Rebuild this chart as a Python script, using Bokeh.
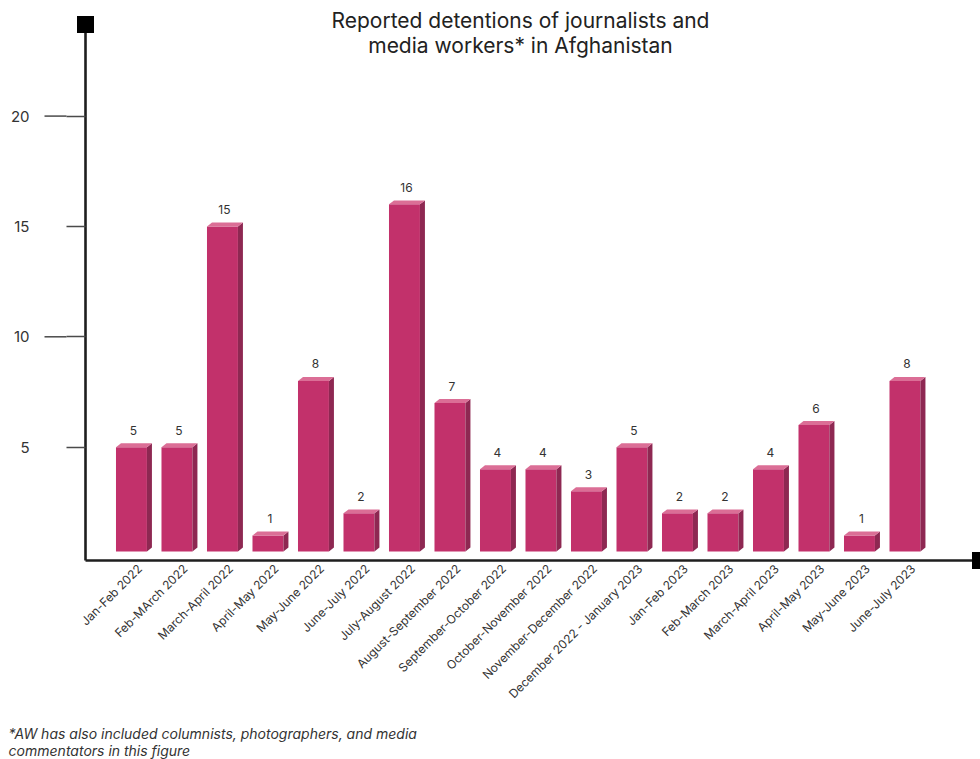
from bokeh.plotting import figure
from bokeh.models import Range1d, FixedTicker, ColumnDataSource
from bokeh.core.properties import value
from bokeh.embed import file_html
from bokeh.resources import INLINE

# ---------------- data ----------------
categories = [
    "Jan-Feb 2022", "Feb-MArch 2022", "March-April 2022", "April-May 2022",
    "May-June 2022", "June-July 2022", "July-August 2022", "August-September 2022",
    "September-October 2022", "October-November 2022", "November-December 2022",
    "December 2022 - January 2023", "Jan-Feb 2023", "Feb-March 2023",
    "March-April 2023", "April-May 2023", "May-June 2023", "June-July 2023",
]
detentions = [5, 5, 15, 1, 8, 2, 16, 7, 4, 4, 3, 5, 2, 2, 4, 6, 1, 8]
y_ticks = [5, 10, 15, 20]
y_long_ticks = [10, 20]
title_lines = ["Reported detentions of journalists and", "media workers* in Afghanistan"]
note_lines = ["*AW has also included columnists, photographers, and media",
              "commentators in this figure"]

# ---------------- styles ----------------
FONT = "Inter"
FRONT = "#C2316B"
SIDE = "#8E2852"
TOP = "#DB6E96"
TICK = "#4a4a4a"
BAR_W = 0.68      # front face width (x units)
DX = 0.11         # depth offset in x
DY = 0.18         # depth offset in y
BASE = 0.27       # bars float slightly above the axis
SHIFT = -0.18     # bars sit slightly left of their label anchor
FRAME_W = 895     # px width of the plotting frame
SHORT_TICK, LONG_TICK = 19, 41   # px

ticks_x = list(range(len(categories)))
bar_x = [i + SHIFT for i in ticks_x]

x_range = Range1d(-1.19, 18.48)
y_range = Range1d(-0.136, 24.15)
p = figure(width=980, height=759, output_backend="svg", toolbar_location=None,
           x_range=x_range, y_range=y_range,
           min_border_left=85, min_border_right=0, min_border_top=24,
           min_border_bottom=199)
p.outline_line_color = None
p.xgrid.visible = False
p.ygrid.visible = False
p.background_fill_color = "white"
p.border_fill_color = "white"

# ---- bars (front, side, top faces) ----
src = ColumnDataSource(dict(x=bar_x, top=detentions, label=[str(v) for v in detentions]))
p.vbar(x="x", width=BAR_W, bottom=BASE, top="top", source=src,
       fill_color=FRONT, line_color=None)

side_x, side_y, top_x, top_y = [], [], [], []
for c, v in zip(bar_x, detentions):
    xl, xr = c - BAR_W / 2, c + BAR_W / 2
    side_x.append([xr, xr + DX, xr + DX, xr])
    side_y.append([BASE, BASE + DY, v + DY, v])
    top_x.append([xl, xr, xr + DX, xl + DX])
    top_y.append([v, v, v + DY, v + DY])
p.patches(side_x, side_y, fill_color=SIDE, line_color=None)
p.patches(top_x, top_y, fill_color=TOP, line_color=None)

# ---- value labels ----
p.text(x="x", y="top", text="label", source=src,
       text_font=value(FONT), text_font_size="12px", text_color="#333333",
       text_align="center", text_baseline="middle", x_offset=2, y_offset=-17)

# ---- axes ----
yax = p.yaxis[0]
yax.ticker = FixedTicker(ticks=y_ticks, minor_ticks=[])
yax.axis_line_color = "#1e1e1e"
yax.axis_line_width = 2.6
yax.major_tick_in = 0
yax.major_tick_out = SHORT_TICK
yax.minor_tick_in = 0
yax.minor_tick_out = 0
yax.major_tick_line_color = TICK
yax.major_tick_line_width = 1.5
yax.major_label_standoff = 37
yax.major_label_text_font = FONT
yax.major_label_text_font_size = "15px"
yax.major_label_text_color = "#333333"

# longer tick marks at 10 and 20 (drawn outside the frame, unclipped)
px_per_x = FRAME_W / (x_range.end - x_range.start)
lt = p.segment(x0=[x_range.start - LONG_TICK / px_per_x] * len(y_long_ticks), y0=y_long_ticks,
               x1=[x_range.start - SHORT_TICK / px_per_x] * len(y_long_ticks), y1=y_long_ticks,
               line_color=TICK, line_width=1.5)
lt.level = "overlay"

xax = p.xaxis[0]
xax.ticker = FixedTicker(ticks=ticks_x, minor_ticks=[])
xax.major_label_overrides = {i: c for i, c in zip(ticks_x, categories)}
xax.major_label_orientation = 0.785398
xax.axis_line_color = "#1e1e1e"
xax.axis_line_width = 2.6
xax.major_tick_in = 0
xax.major_tick_out = 0
xax.minor_tick_in = 0
xax.minor_tick_out = 0
xax.major_label_standoff = 6
xax.major_label_text_font = FONT
xax.major_label_text_font_size = "12px"
xax.major_label_text_color = "#333333"

# ---- black squares at axis ends ----
sq = p.scatter(x=[x_range.start, x_range.end], y=[y_range.end, y_range.start],
               marker="square", size=17, fill_color="black", line_color=None)
sq.level = "overlay"

# ---- title & footnote (overlay text glyphs, not clipped to the frame) ----
t = p.text(x=[8.37, 8.37], y=[24.33, 23.20], text=title_lines,
           text_font=value(FONT), text_font_size="21px", text_color="#222222",
           text_align="center", text_baseline="middle")
t.level = "overlay"
n = p.text(x=[-2.88, -2.88], y=[-7.97, -8.75], text=note_lines,
           text_font=value(FONT), text_font_size="14px", text_font_style="italic",
           text_color="#333333", text_align="left", text_baseline="middle")
n.level = "overlay"

open("out.html", "w").write(file_html(p, INLINE))
